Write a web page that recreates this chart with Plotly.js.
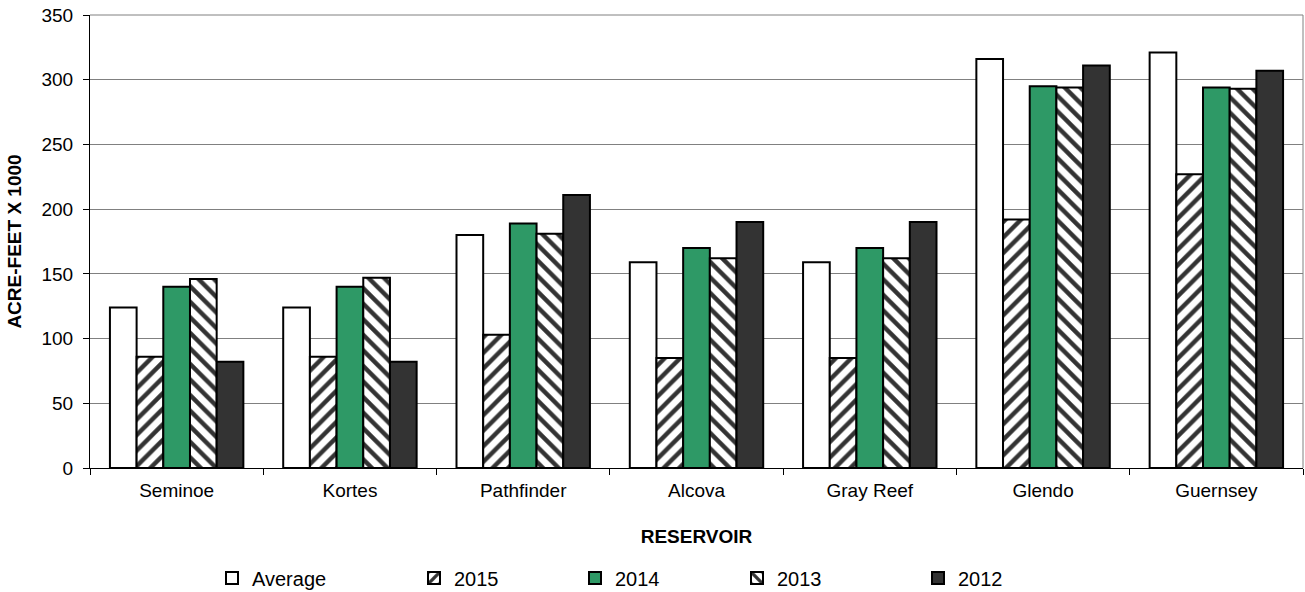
<!DOCTYPE html>
<html>
<head>
<meta charset="utf-8">
<script src="https://cdn.plot.ly/plotly-3.0.1.min.js"></script>
<style>html,body{margin:0;padding:0;background:#fff;}#chart{width:1305px;height:592px;}</style>
</head>
<body>
<div id="chart"></div>
<script>
var categories = ["Seminoe", "Kortes", "Pathfinder", "Alcova", "Gray Reef", "Glendo", "Guernsey"];
var seriesNames = ["Average", "2015", "2014", "2013", "2012"];
var average = [124, 124, 180, 159, 159, 316, 321];
var y2015 = [86, 86, 103, 85, 85, 192, 227];
var y2014 = [140, 140, 189, 170, 170, 295, 294];
var y2013 = [146, 147, 181, 162, 162, 294, 293];
var y2012 = [82, 82, 211, 190, 190, 311, 307];
var yTicks = [0, 50, 100, 150, 200, 250, 300, 350];

var seriesValues = [average, y2015, y2014, y2013, y2012];
var fills = ["#ffffff", "#ffffff", "#2e9966", "#ffffff", "#333333"];
var patterns = ["", "/", "", "\\", ""];
var legendIds = ["legend", "legend2", "legend3", "legend4", "legend5"];
var legendPx = [232, 434, 595, 757, 938];

var plotL = 90, plotR = 1303, plotT = 15, plotB = 468;

var traces = seriesValues.map(function (vals, i) {
  var m = { color: fills[i], line: { color: "#000000", width: 2 } };
  if (patterns[i]) {
    m.pattern = { shape: patterns[i], fgcolor: "#333333", bgcolor: "#ffffff", size: 11, solidity: 0.4 };
  }
  return { type: "bar", name: seriesNames[i], x: categories, y: vals, marker: m, legend: legendIds[i] };
});

var layout = {
  width: 1305, height: 592,
  margin: { l: plotL, r: 1305 - plotR, t: plotT, b: 592 - plotB, autoexpand: false },
  paper_bgcolor: "#ffffff", plot_bgcolor: "#ffffff",
  font: { family: "Liberation Sans, Arial, sans-serif", size: 19, color: "#000" },
  barmode: "group", bargap: 0.23, bargroupgap: 0,
  xaxis: {
    type: "category", showline: true, linecolor: "#000", linewidth: 1,
    ticks: "outside", tickson: "boundaries", ticklen: 6, tickcolor: "#000",
    showgrid: false,
    title: { text: "<b>RESERVOIR</b>", font: { size: 19 }, standoff: 29 },
    tickfont: { size: 19 }, ticklabelstandoff: 5
  },
  yaxis: {
    range: [0, 350], tickvals: yTicks, showline: true, linecolor: "#000", linewidth: 1,
    ticks: "outside", ticklen: 6, tickcolor: "#000",
    showgrid: true, gridcolor: "#808080", gridwidth: 1, zeroline: false,
    title: { text: "<b>ACRE-FEET X 1000</b>", font: { size: 19 }, standoff: 14 },
    tickfont: { size: 19 }, ticklabelstandoff: 6
  },
  shapes: [
    { type: "line", xref: "paper", yref: "paper", x0: 0, x1: 1, y0: 1, y1: 1, line: { color: "#808080", width: 1 } },
    { type: "line", xref: "paper", yref: "paper", x0: 1, x1: 1, y0: 0, y1: 1, line: { color: "#808080", width: 1 } }
  ],
  showlegend: true
};

legendIds.forEach(function (id, i) {
  layout[id] = {
    orientation: "h",
    x: (legendPx[i] - 20 - plotL) / (plotR - plotL), xanchor: "left",
    y: (plotB - 578) / (plotB - plotT), yanchor: "middle",
    font: { size: 20 }, bgcolor: "rgba(0,0,0,0)", borderwidth: 0
  };
});

Plotly.newPlot("chart", traces, layout, { displayModeBar: false, staticPlot: true });
</script>
</body>
</html>
